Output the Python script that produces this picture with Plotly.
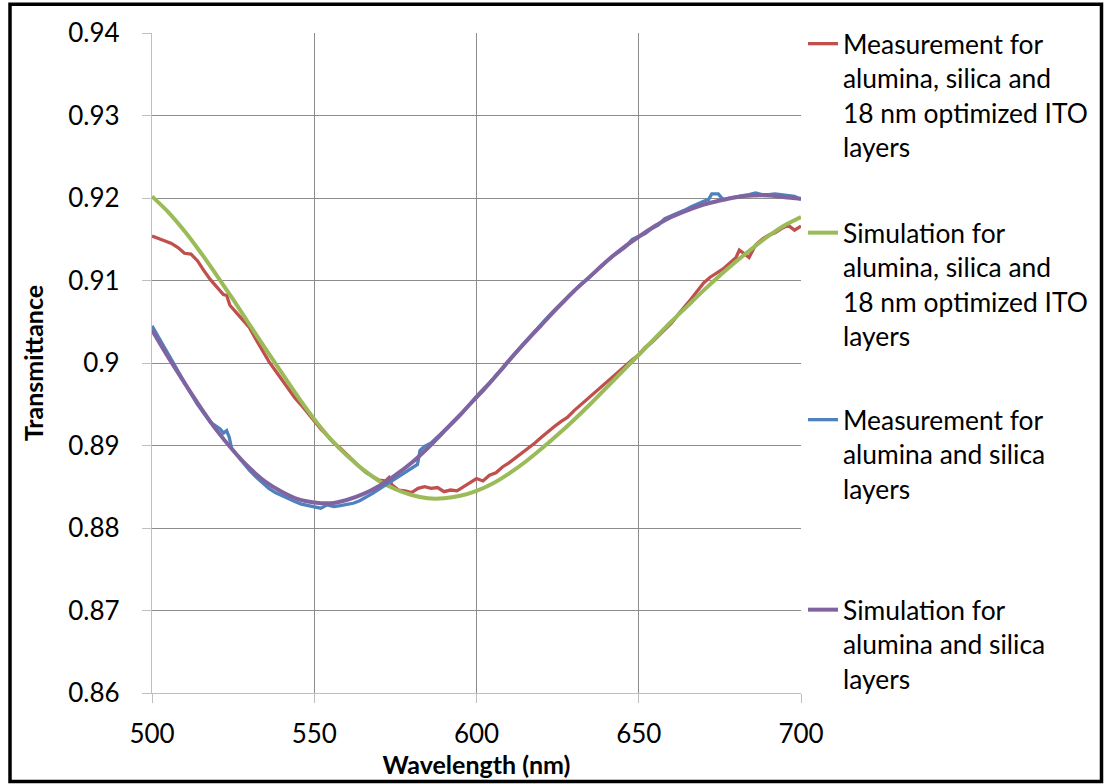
import plotly.graph_objects as go

# Measured transmittance, alumina + silica + 18 nm ITO
ito_meas_wl = [500, 502, 504, 506, 508, 510, 512, 514, 516, 518, 520, 522, 523, 524, 526, 528, 530,
               532, 534, 536, 538, 540, 542, 544, 546, 548, 550, 552, 554, 556, 558, 560, 562, 564,
               566, 568, 570, 572, 573, 574, 576, 578, 580, 582, 584, 586, 588, 590, 592, 594, 596,
               598, 600, 602, 604, 606, 608, 610, 612, 614, 616, 618, 620, 622, 624, 626, 628, 630,
               632, 634, 636, 638, 640, 642, 644, 646, 648, 650, 652, 654, 656, 658, 660, 662, 664,
               666, 668, 670, 672, 674, 676, 678, 680, 681, 682, 684, 686, 688, 690, 692, 694, 696,
               698, 700]
ito_meas_t = [0.9154, 0.9151, 0.9148, 0.9145, 0.9140, 0.9133, 0.9132, 0.9124, 0.9112, 0.9101,
              0.9092, 0.9083, 0.9082, 0.9070, 0.9061, 0.9052, 0.9043, 0.9029, 0.9015, 0.9002,
              0.8991, 0.8980, 0.8969, 0.8958, 0.8949, 0.8939, 0.8929, 0.8920, 0.8912, 0.8903,
              0.8897, 0.8889, 0.8882, 0.8874, 0.8867, 0.8863, 0.8858, 0.8857, 0.8861, 0.8852,
              0.8846, 0.8845, 0.8843, 0.8848, 0.8850, 0.8848, 0.8849, 0.8844, 0.8846, 0.8845,
              0.8850, 0.8855, 0.8860, 0.8857, 0.8864, 0.8867, 0.8874, 0.8879, 0.8885, 0.8890,
              0.8897, 0.8903, 0.8910, 0.8917, 0.8923, 0.8929, 0.8934, 0.8942, 0.8949, 0.8956,
              0.8962, 0.8969, 0.8976, 0.8984, 0.8990, 0.8997, 0.9004, 0.9010, 0.9019, 0.9025,
              0.9033, 0.9041, 0.9048, 0.9058, 0.9067, 0.9077, 0.9087, 0.9097, 0.9104, 0.9109,
              0.9114, 0.9121, 0.9128, 0.9137, 0.9134, 0.9128, 0.9143, 0.9150, 0.9155, 0.9158,
              0.9163, 0.9167, 0.9161, 0.9166]

# Simulated transmittance, alumina + silica + 18 nm ITO
ito_sim_wl = list(range(500, 701, 5))
ito_sim_t = [0.9202, 0.9183, 0.9160, 0.9134, 0.9106, 0.9077, 0.9047, 0.9017, 0.8988, 0.8959,
             0.8932, 0.8908, 0.8888, 0.8871, 0.8857, 0.8847, 0.8840, 0.8836, 0.8836, 0.8839,
             0.8845, 0.8854, 0.8866, 0.8880, 0.8896, 0.8913, 0.8931, 0.8950, 0.8970, 0.8990,
             0.9010, 0.9030, 0.9050, 0.9069, 0.9088, 0.9106, 0.9123, 0.9139, 0.9154, 0.9167,
             0.9177]

# Measured transmittance, alumina + silica only
as_meas_wl = [500, 502, 504, 506, 508, 510, 512, 514, 516, 518, 519.5, 521, 522, 523, 523.8, 524.5,
              526, 528, 530, 532, 534, 536, 538, 540, 542, 544, 546, 548, 550, 552, 554, 556, 558,
              560, 562, 564, 566, 568, 570, 572, 574, 576, 578, 580, 581.8, 582.6, 584, 586, 588,
              590, 592, 594, 596, 598, 600, 602, 604, 606, 608, 610, 612, 614, 616, 618, 620, 622,
              624, 626, 628, 630, 632, 634, 636, 638, 640, 642, 644, 646, 648, 650, 652, 654, 656,
              658, 660, 662, 664, 666, 668, 670, 671.5, 672.5, 674.5, 676, 678, 680, 682, 684, 686,
              688, 690, 692, 694, 696, 698, 700]
as_meas_t = [0.9045, 0.9031, 0.9017, 0.9003, 0.8989, 0.8976, 0.8963, 0.8950, 0.8939, 0.8928,
             0.8924, 0.8920, 0.8915, 0.8918, 0.8910, 0.8897, 0.8889, 0.8879, 0.8870, 0.8862,
             0.8855, 0.8848, 0.8843, 0.8839, 0.8835, 0.8832, 0.8829, 0.8827, 0.8826, 0.8824,
             0.8828, 0.8826, 0.8827, 0.8828, 0.8830, 0.8833, 0.8837, 0.8842, 0.8847, 0.8852,
             0.8857, 0.8862, 0.8867, 0.8872, 0.8877, 0.8894, 0.8899, 0.8903, 0.8910, 0.8918,
             0.8926, 0.8934, 0.8941, 0.8950, 0.8958, 0.8966, 0.8975, 0.8985, 0.8993, 0.9003,
             0.9012, 0.9021, 0.9030, 0.9039, 0.9047, 0.9056, 0.9064, 0.9072, 0.9080, 0.9088,
             0.9095, 0.9101, 0.9108, 0.9115, 0.9122, 0.9130, 0.9135, 0.9141, 0.9150, 0.9154,
             0.9157, 0.9163, 0.9167, 0.9175, 0.9178, 0.9181, 0.9185, 0.9189, 0.9193, 0.9196,
             0.9198, 0.9205, 0.9205, 0.9198, 0.9200, 0.9202, 0.9203, 0.9204, 0.9206, 0.9204,
             0.9204, 0.9205, 0.9204, 0.9203, 0.9202, 0.9198]

# Simulated transmittance, alumina + silica only
as_sim_wl = list(range(500, 701, 5))
as_sim_t = [0.9040, 0.9007, 0.8976, 0.8946, 0.8918, 0.8894, 0.8873, 0.8856, 0.8844, 0.8835,
            0.8831, 0.8830, 0.8834, 0.8841, 0.8851, 0.8864, 0.8879, 0.8897, 0.8917, 0.8937,
            0.8959, 0.8980, 0.9003, 0.9025, 0.9046, 0.9067, 0.9087, 0.9105, 0.9123, 0.9139,
            0.9153, 0.9166, 0.9177, 0.9185, 0.9192, 0.9197, 0.9201, 0.9203, 0.9203, 0.9201,
            0.9199]

series_names = [
    "Measurement for<br>alumina, silica and<br>18 nm optimized ITO<br>layers",
    "Simulation for<br>alumina, silica and<br>18 nm optimized ITO<br>layers",
    "Measurement for<br>alumina and silica<br>layers",
    "Simulation for<br>alumina and silica<br>layers",
]
series_colors = ["#C0504D", "#9BBB59", "#4F81BD", "#8064A2"]
series_widths = [3.3, 4, 3.3, 4]

x_ticks = [500, 550, 600, 650, 700]
y_ticks = [0.86, 0.87, 0.88, 0.89, 0.90, 0.91, 0.92, 0.93, 0.94]
y_tick_text = ["0.86", "0.87", "0.88", "0.89", "0.9", "0.91", "0.92", "0.93", "0.94"]

FONT = "Lato, 'Open Sans', sans-serif"

# plot-area edges in pixels (figure is 1106 x 784)
L, R, T, B = 152, 801, 33, 693
W, H = 1106, 784


def px_x(p):
    return (p - L) / (R - L)


def px_y(p):
    return (B - p) / (B - T)


data = [(ito_meas_wl, ito_meas_t, "linear"), (ito_sim_wl, ito_sim_t, "spline"),
        (as_meas_wl, as_meas_t, "linear"), (as_sim_wl, as_sim_t, "spline")]
legend_ids = ["legend", "legend2", "legend3", "legend4"]
legend_tops = [20, 209, 396, 586]

fig = go.Figure()
for (wl, t, shape), name, col, w, lid in zip(data, series_names, series_colors, series_widths, legend_ids):
    fig.add_trace(go.Scatter(x=wl, y=t, mode="lines", name=name, legend=lid,
                             line=dict(color=col, width=w, shape=shape, smoothing=0.6)))

legend_common = dict(xanchor="left", yanchor="top", bgcolor="rgba(0,0,0,0)", borderwidth=0,
                     font=dict(family=FONT, size=26.4, color="#000000"), valign="top",
                     itemwidth=30, tracegroupgap=0)
layout_legends = {}
for lid, top in zip(legend_ids, legend_tops):
    layout_legends[lid] = dict(x=px_x(803), y=px_y(top), **legend_common)

fig.update_layout(
    width=W, height=784,
    margin=dict(l=L, r=W - R, t=T, b=H - B, pad=0),
    paper_bgcolor="white", plot_bgcolor="white",
    font=dict(family=FONT, color="#000000"),
    showlegend=True,
    **layout_legends,
    xaxis=dict(
        range=[500, 700], tickvals=x_ticks, ticktext=[str(v) for v in x_ticks],
        showgrid=True, gridcolor="#8C8C8C", gridwidth=1.3,
        showline=True, linecolor="#BFBFBF", linewidth=1.3, mirror=False,
        ticks="outside", ticklen=9, tickcolor="#BFBFBF", tickwidth=1.3,
        tickfont=dict(family=FONT, size=26, color="#000000"), ticklabelstandoff=9,
        zeroline=False,
        title=dict(text="<b>Wavelength (nm)</b>", font=dict(family=FONT, size=25, color="#000000"),
                   standoff=1),
    ),
    yaxis=dict(
        range=[0.86, 0.94], tickvals=y_ticks, ticktext=y_tick_text,
        showgrid=True, gridcolor="#8C8C8C", gridwidth=1.3,
        showline=True, linecolor="#BFBFBF", linewidth=1.3, mirror=False,
        ticks="outside", ticklen=9, tickcolor="#BFBFBF", tickwidth=1.3,
        tickfont=dict(family=FONT, size=26, color="#000000"), ticklabelstandoff=17,
        zeroline=False,
        title=dict(text="<b>Transmittance</b>", font=dict(family=FONT, size=25, color="#000000"),
                   standoff=17),
    ),
    shapes=[dict(type="rect", xref="paper", yref="paper", layer="above",
                 x0=px_x(10), x1=px_x(1101.5), y0=px_y(781.5), y1=px_y(4.3),
                 line=dict(color="#000000", width=3.5), fillcolor="rgba(0,0,0,0)")],
)

fig.write_html("out.html")
